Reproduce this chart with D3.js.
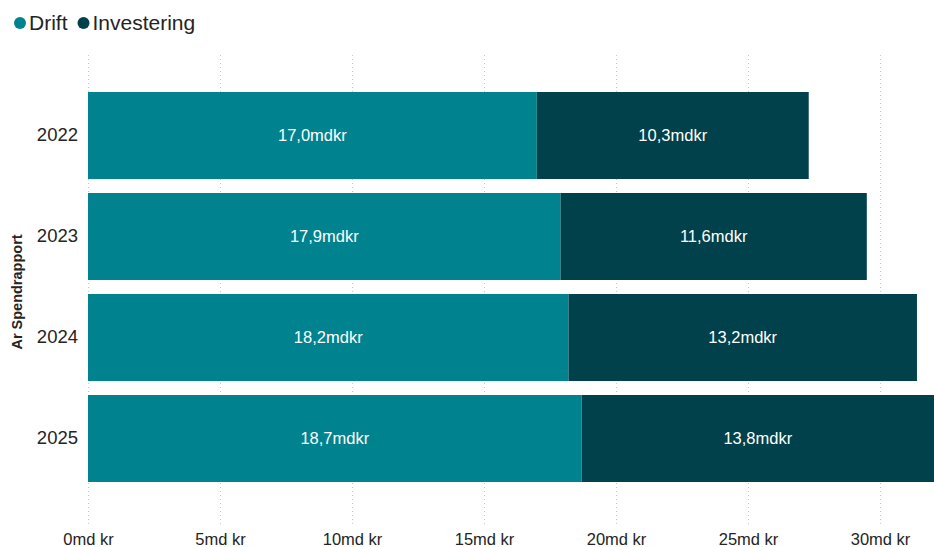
<html>
<head>
<script src="https://d3js.org/d3.v7.min.js"></script>
<style>
  body { margin: 0; background: #fff; }
  svg text { font-family: "Liberation Sans", Arial, sans-serif; }
</style>
</head>
<body>
<div id="chart"></div>
<script>
var years = ["2022", "2023", "2024", "2025"];
var drift = [17.0, 17.9, 18.2, 18.7];
var investering = [10.3, 11.6, 13.2, 13.8];
var xTicks = [0, 5, 10, 15, 20, 25, 30];
var seriesNames = ["Drift", "Investering"];
var colors = ["#00838F", "#01414B"];

var width = 934, height = 547;
var left = 88;

var svg = d3.select("#chart").append("svg")
  .attr("width", width).attr("height", height);

svg.append("clipPath").attr("id", "clip")
  .append("rect").attr("x", 0).attr("y", 0).attr("width", width).attr("height", height);

var x = d3.scaleLinear().domain([0, 30]).range([left, left + 792]);
var y = d3.scaleBand().domain(years).range([85, 489]).paddingInner(0.1386).paddingOuter(0.0693);

// gridlines
svg.append("g").selectAll("line").data(xTicks).enter().append("line")
  .attr("x1", function(d) { return x(d) + 0.5; })
  .attr("x2", function(d) { return x(d) + 0.5; })
  .attr("y1", 55).attr("y2", 527)
  .attr("stroke", "#c8c8c8").attr("stroke-dasharray", "1,3");

var rows = years.map(function(yr, i) {
  return { year: yr, parts: [
    { s: 0, x0: 0, x1: drift[i], v: drift[i] },
    { s: 1, x0: drift[i], x1: drift[i] + investering[i], v: investering[i] }
  ]};
});

var g = svg.append("g").attr("clip-path", "url(#clip)");
var row = g.selectAll("g.row").data(rows).enter().append("g")
  .attr("transform", function(d) { return "translate(0," + y(d.year) + ")"; });

row.selectAll("rect").data(function(d) { return d.parts; }).enter().append("rect")
  .attr("x", function(d) { return x(d.x0); })
  .attr("width", function(d) { return x(d.x1) - x(d.x0); })
  .attr("height", y.bandwidth())
  .attr("fill", function(d) { return colors[d.s]; });

row.selectAll("text").data(function(d) { return d.parts; }).enter().append("text")
  .attr("x", function(d) { return (x(d.x0) + Math.min(x(d.x1), width)) / 2; })
  .attr("y", y.bandwidth() / 2)
  .attr("dy", "0.35em")
  .attr("text-anchor", "middle")
  .attr("fill", "#ffffff")
  .attr("font-size", "16.5px")
  .text(function(d) { return d.v.toFixed(1).replace(".", ",") + "mdkr"; });

// x axis labels
var xAxis = d3.axisBottom(x).tickValues(xTicks).tickSize(0).tickPadding(0)
  .tickFormat(function(d) { return d + "md kr"; });
var xa = svg.append("g").attr("transform", "translate(0,533)").call(xAxis);
xa.select(".domain").remove();
xa.selectAll("text").attr("font-size", "16.5px").attr("fill", "#252423")
  .attr("font-family", "Liberation Sans, Arial, sans-serif");

// y axis labels
var yAxis = d3.axisLeft(y).tickSize(0).tickPadding(10);
var ya = svg.append("g").attr("transform", "translate(" + left + ",0)").call(yAxis);
ya.select(".domain").remove();
ya.selectAll("text").attr("font-size", "18.5px").attr("fill", "#252423")
  .attr("font-family", "Liberation Sans, Arial, sans-serif");

svg.append("text")
  .attr("transform", "translate(22," + ((85 + 489) / 2 + 5) + ") rotate(-90)")
  .attr("text-anchor", "middle")
  .attr("font-size", "14.5px").attr("font-weight", "bold").attr("fill", "#252423")
  .text("Ar Spendrapport");

// legend
var lx = 14;
var legend = svg.append("g").attr("transform", "translate(0,23)");
seriesNames.forEach(function(name, i) {
  legend.append("circle").attr("cx", lx + 6).attr("cy", 0).attr("r", 6).attr("fill", colors[i]);
  var t = legend.append("text").attr("x", lx + 15).attr("y", 0).attr("dy", "0.35em")
    .attr("font-size", "21px").attr("fill", "#252423").text(name);
  lx += 15 + t.node().getComputedTextLength() + 10;
});
</script>
</body>
</html>
